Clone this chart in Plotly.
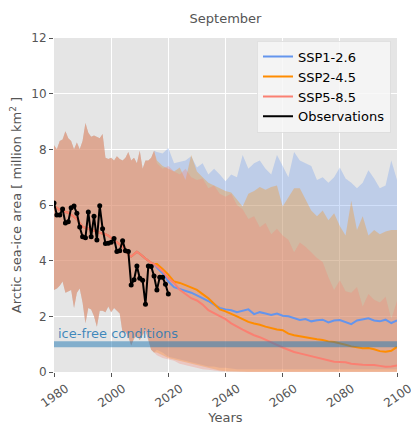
import plotly.graph_objects as go

# ---------------- data ----------------
hist_years = list(range(1980, 2016))
ssp_years = list(range(2016, 2101, 2))
obs_years = list(range(1980, 2021))

hist_mean = [5.95, 5.9, 5.82, 5.8, 5.75, 5.72, 5.65, 5.58, 5.5, 5.35,
             5.22, 5.18, 5.15, 5.1, 5.08, 5.05, 5.0, 4.98, 4.95, 4.9,
             4.82, 4.74, 4.66, 4.58, 4.5, 4.38, 4.22, 4.15, 4.22, 4.32,
             4.25, 4.15, 4.08, 4.0, 3.92, 3.88]
hist_low = [2.95, 3.0, 3.1, 3.25, 2.85, 2.9, 2.95, 2.3, 2.85, 3.0,
            2.5, 1.75, 2.3, 2.25, 2.0, 1.63, 2.2, 2.2, 2.15, 2.35,
            2.15, 2.3, 2.2, 2.1, 1.4, 1.45, 1.27, 0.95, 1.2, 1.3,
            1.15, 1.35, 1.5, 1.15, 0.8, 0.7]
hist_high = [8.15, 8.0, 8.3, 8.35, 8.65, 8.4, 8.3, 8.0, 8.25, 8.0,
             8.3, 8.95, 8.6, 8.45, 8.5, 8.45, 8.4, 8.55, 7.7, 7.65,
             7.7, 7.6, 7.75, 7.65, 7.6, 7.7, 7.9, 7.6, 7.7, 7.5,
             7.95, 7.3, 7.6, 7.6, 7.7, 7.95]

ssp126_mean = [3.75, 3.55, 3.25, 3.05, 2.98, 2.92, 2.85, 2.75, 2.65, 2.55,
               2.42, 2.3, 2.25, 2.22, 2.15, 2.2, 2.25, 2.08, 2.15, 2.1,
               2.05, 2.1, 2.02, 2.0, 1.93, 1.87, 1.9, 1.82, 1.86, 1.88,
               1.78, 1.85, 1.87, 1.8, 1.72, 1.85, 1.88, 1.93, 1.85, 1.82,
               1.88, 1.76, 1.85]
ssp126_low = [0.8, 0.7, 0.55, 0.5, 0.45, 0.4, 0.35, 0.3, 0.25, 0.2,
              0.2, 0.15, 0.15, 0.12, 0.1, 0.1, 0.1, 0.08, 0.1, 0.09,
              0.1, 0.08, 0.1, 0.09, 0.1, 0.08, 0.1, 0.09, 0.1, 0.08,
              0.1, 0.09, 0.1, 0.08, 0.1, 0.09, 0.1, 0.08, 0.1, 0.09,
              0.1, 0.08, 0.1]
ssp126_high = [7.9, 7.85, 8.05, 7.5, 7.55, 7.6, 7.75, 7.35, 7.5, 7.1,
               7.3, 7.1, 6.85, 7.1, 7.0, 7.8, 7.3, 7.5, 7.6, 7.3,
               7.1, 7.8, 7.4, 7.0, 7.9, 7.6, 7.5, 7.4, 6.9, 7.0,
               6.8, 7.0, 7.35, 6.95, 6.8, 6.6, 6.8, 7.25, 6.95, 6.6,
               6.7, 7.6, 6.9]

ssp245_mean = [3.88, 3.7, 3.5, 3.25, 3.2, 3.12, 3.02, 2.95, 2.8, 2.65,
               2.45, 2.25, 2.18, 2.1, 2.0, 1.9, 1.8, 1.74, 1.7, 1.63,
               1.57, 1.53, 1.5, 1.38, 1.32, 1.28, 1.25, 1.21, 1.18, 1.15,
               1.1, 1.08, 1.04, 0.98, 0.92, 0.88, 0.85, 0.86, 0.82, 0.75,
               0.73, 0.76, 0.9]
ssp245_low = [0.7, 0.6, 0.5, 0.45, 0.4, 0.35, 0.3, 0.25, 0.2, 0.15,
              0.1, 0.05, 0.03, 0.02, 0.02, 0.01, 0.01, 0.01, 0.01, 0.01,
              0.01, 0.01, 0.01, 0.01, 0.01, 0.01, 0.01, 0.01, 0.01, 0.01,
              0.01, 0.01, 0.01, 0.01, 0.01, 0.01, 0.01, 0.01, 0.01, 0.01,
              0.01, 0.01, 0.01]
ssp245_high = [7.6, 7.4, 7.3, 7.2, 7.35, 6.9, 7.8, 7.2, 7.0, 6.8,
               6.7, 6.6, 6.5, 6.45, 6.2, 5.95, 6.4, 6.5, 6.65, 6.55,
               6.65, 6.7, 5.95, 6.3, 6.6, 6.6, 6.2, 5.8, 5.6, 5.8,
               5.45, 5.7, 5.25, 4.9, 6.15, 5.1, 5.6, 4.9, 5.1, 4.95,
               5.05, 5.1, 5.1]

ssp585_mean = [3.8, 3.62, 3.37, 3.2, 2.95, 2.8, 2.65, 2.57, 2.42, 2.22,
               2.12, 2.0, 1.9, 1.75, 1.62, 1.52, 1.42, 1.32, 1.25, 1.15,
               1.05, 0.95, 0.88, 0.8, 0.72, 0.67, 0.62, 0.56, 0.5, 0.45,
               0.42, 0.37, 0.36, 0.35, 0.3, 0.27, 0.26, 0.25, 0.25, 0.22,
               0.19, 0.2, 0.23]
ssp585_low = [0.6, 0.5, 0.45, 0.4, 0.3, 0.25, 0.2, 0.15, 0.1, 0.08,
              0.05, 0.03, 0.02, 0.01, 0.0, 0.0, 0.0, 0.0, 0.0, 0.0,
              0.0, 0.0, 0.0, 0.0, 0.0, 0.0, 0.0, 0.0, 0.0, 0.0,
              0.0, 0.0, 0.0, 0.0, 0.0, 0.0, 0.0, 0.0, 0.0, 0.0,
              0.0, 0.0, 0.0]
ssp585_high = [7.5, 7.3, 7.4, 7.2, 7.1, 7.3, 7.0, 6.9, 6.95, 6.6,
               6.7, 6.4, 6.3, 6.4, 6.0, 5.85, 5.5, 5.6, 5.2, 5.35,
               4.95, 5.15, 4.9, 4.75, 4.3, 4.65, 4.5, 4.3, 4.1, 3.95,
               3.4, 2.95, 3.3, 2.9, 2.85, 3.05, 2.35, 2.8, 2.6, 2.5,
               2.7, 1.9, 2.55]

obs_values = [6.07, 5.64, 5.64, 5.86, 5.35, 5.40, 5.90, 5.96, 5.70, 5.21,
              4.86, 4.82, 5.75, 4.86, 5.60, 4.74, 5.97, 5.15, 4.62, 4.63,
              4.66, 4.80, 4.33, 4.36, 4.72, 4.36, 4.33, 3.13, 3.31, 3.81,
              3.37, 3.30, 2.43, 3.81, 3.79, 3.45, 2.95, 3.40, 3.40, 3.15,
              2.80]

scenario_names = ["SSP1-2.6", "SSP2-4.5", "SSP5-8.5"]
scenario_colors = ["#6495ED", "#FF8C00", "#FA8072"]
scenario_fills = ["rgba(100,149,237,0.3)", "rgba(255,140,0,0.3)", "rgba(250,128,114,0.3)"]
ice_free_threshold = 1.0
x_ticks = [1980, 2000, 2020, 2040, 2060, 2080, 2100]
y_ticks = [0, 2, 4, 6, 8, 10, 12]

scen_mean = [ssp126_mean, ssp245_mean, ssp585_mean]
scen_low = [ssp126_low, ssp245_low, ssp585_low]
scen_high = [ssp126_high, ssp245_high, ssp585_high]

years_all = hist_years + ssp_years

fig = go.Figure()

# bands
for i in range(3):
    fig.add_trace(go.Scatter(x=years_all, y=hist_low + scen_low[i], mode="lines",
                             line=dict(width=0), showlegend=False, hoverinfo="skip"))
    fig.add_trace(go.Scatter(x=years_all, y=hist_high + scen_high[i], mode="lines",
                             line=dict(width=0), fill="tonexty",
                             fillcolor=scenario_fills[i], showlegend=False, hoverinfo="skip"))

# mean lines
for i in range(3):
    fig.add_trace(go.Scatter(x=years_all, y=hist_mean + scen_mean[i], mode="lines",
                             line=dict(color=scenario_colors[i], width=2),
                             name=scenario_names[i]))

# observations
fig.add_trace(go.Scatter(x=obs_years, y=obs_values, mode="lines+markers",
                         line=dict(color="black", width=2),
                         marker=dict(color="black", size=5),
                         name="Observations", showlegend=False))
fig.add_trace(go.Scatter(x=[None], y=[None], mode="lines",
                         line=dict(color="black", width=2), name="Observations"))

fig.add_hline(y=ice_free_threshold, line_width=6, line_color="rgba(31,119,180,0.5)",
              layer="above")
fig.add_annotation(x=1980.6, y=ice_free_threshold + 0.38, text="ice-free conditions",
                   showarrow=False, xanchor="left", yanchor="middle",
                   font=dict(size=13, color="rgba(31,119,180,0.85)"))

fig.update_layout(
    width=411, height=425,
    margin=dict(l=54, r=14, t=38, b=53, autoexpand=False),
    paper_bgcolor="white", plot_bgcolor="#E5E5E5",
    font=dict(family="DejaVu Sans", color="#555555", size=12),
    title=dict(text="September", x=0.5, xref="paper", y=1 - 18 / 425, yref="container",
               xanchor="center", yanchor="middle", font=dict(size=13, color="#555555")),
    legend=dict(x=0.9825, y=0.992, xanchor="right", yanchor="top", traceorder="normal",
                bgcolor="rgba(247,247,247,0.85)", bordercolor="rgba(220,220,220,0.8)",
                borderwidth=1, font=dict(size=13, color="black"), itemwidth=30),
    showlegend=True,
)
fig.update_xaxes(range=[1980, 2100], tickvals=x_ticks, ticktext=[str(t) for t in x_ticks],
                 tickangle=-35, showgrid=True, gridcolor="white", gridwidth=1,
                 zeroline=False, ticks="outside", ticklen=4, tickcolor="#555555",
                 tickfont=dict(size=12, color="#555555"), ticklabelshift=12,
                 ticklabeloverflow="allow", automargin=False,
                 title=dict(text="Years", font=dict(size=13, color="#555555"), standoff=4))
fig.update_yaxes(range=[0, 12], tickvals=y_ticks, showgrid=True, gridcolor="white", gridwidth=1,
                 zeroline=False, ticks="outside", ticklen=4, tickcolor="#555555",
                 tickfont=dict(size=12, color="#555555"), automargin=False,
                 ticklabeloverflow="allow",
                 title=dict(text="Arctic sea-ice area [ million km<sup>2</sup> ]",
                            font=dict(size=13, color="#555555"), standoff=6))

fig.write_html("out.html", config={"displayModeBar": False},
               post_script="document.body.style.margin='0';")
